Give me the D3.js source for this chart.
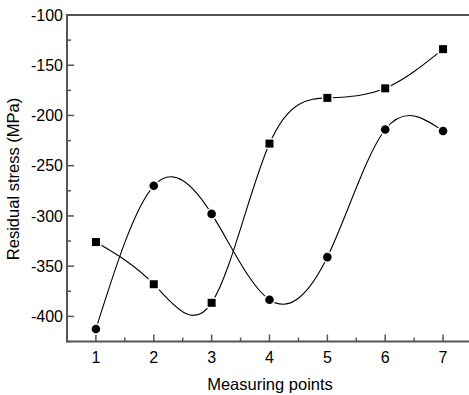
<!DOCTYPE html>
<html><head><meta charset="utf-8">
<script src="https://cdn.jsdelivr.net/npm/d3@7"></script>
<style>html,body{margin:0;padding:0;background:#fff;}svg{display:block;}</style>
</head><body>
<script>
const points = [1,2,3,4,5,6,7];
const squareSeries = [-326,-368,-386.5,-228,-182.5,-173,-134];
const circleSeries = [-412.5,-270,-298,-383.5,-341,-214,-215.5];
const xTicks = [1,2,3,4,5,6,7];
const yTicks = [-100,-150,-200,-250,-300,-350,-400];
const xTitle = "Measuring points";
const yTitle = "Residual stress (MPa)";

const W = 469, H = 395;
const svg = d3.select("body").append("svg").attr("width", W).attr("height", H);
const x = d3.scaleLinear().domain([0.5, 7.5]).range([67, 472]);
const y = d3.scaleLinear().domain([-425, -100]).range([341.5, 15]);
const font = "'Liberation Sans', Arial, sans-serif";
const axisColor = "#555";
const fs = 16;

// curves
const line = d3.line().x((d,i)=>x(points[i])).y(d=>y(d)).curve(d3.curveNatural);
[squareSeries, circleSeries].forEach(s=>{
  svg.append("path").attr("d", line(s)).attr("fill","none").attr("stroke","#000").attr("stroke-width",1.1);
});

// axes frame
const g = svg.append("g");
g.append("line").attr("x1", x(0.5)).attr("x2", x(0.5)).attr("y1", y(-100)).attr("y2", y(-425)).attr("stroke", axisColor).attr("stroke-width", 2);
g.append("line").attr("x1", x(0.5)-1).attr("x2", x(7.5)).attr("y1", y(-425)).attr("y2", y(-425)).attr("stroke", axisColor).attr("stroke-width", 2);
g.append("line").attr("x1", x(0.5)-1).attr("x2", x(7.5)).attr("y1", y(-100)).attr("y2", y(-100)).attr("stroke", axisColor).attr("stroke-width", 2);

// y ticks
const yMinor = d3.range(-425, -99, 25).filter(v=>!yTicks.includes(v));
yTicks.forEach(v=>{
  g.append("line").attr("x1", x(0.5)).attr("x2", x(0.5)+7).attr("y1", y(v)).attr("y2", y(v)).attr("stroke", axisColor).attr("stroke-width", 1.5);
  g.append("text").attr("x", x(0.5)-4).attr("y", y(v)).attr("dy","0.35em").attr("text-anchor","end")
   .attr("font-family", font).attr("font-size", fs).attr("fill","#000").text(v);
});
yMinor.forEach(v=>{
  g.append("line").attr("x1", x(0.5)).attr("x2", x(0.5)+4).attr("y1", y(v)).attr("y2", y(v)).attr("stroke", axisColor).attr("stroke-width", 1.5);
});
// x ticks
xTicks.forEach(v=>{
  g.append("line").attr("x1", x(v)).attr("x2", x(v)).attr("y1", y(-425)).attr("y2", y(-425)-7).attr("stroke", axisColor).attr("stroke-width", 1.5);
  g.append("text").attr("x", x(v)).attr("y", y(-425)+21.5).attr("text-anchor","middle")
   .attr("font-family", font).attr("font-size", fs).attr("fill","#000").text(v);
});
d3.range(1.5, 7.5, 1).forEach(v=>{
  g.append("line").attr("x1", x(v)).attr("x2", x(v)).attr("y1", y(-425)).attr("y2", y(-425)-4).attr("stroke", axisColor).attr("stroke-width", 1.5);
});

// markers
svg.append("g").selectAll("rect").data(squareSeries).join("rect")
  .attr("x",(d,i)=>x(points[i])-4).attr("y",d=>y(d)-4).attr("width",8).attr("height",8)
  .attr("fill","#000").attr("stroke","#fff").attr("stroke-width",3).attr("paint-order","stroke");
svg.append("g").selectAll("circle").data(circleSeries).join("circle")
  .attr("cx",(d,i)=>x(points[i])).attr("cy",d=>y(d)).attr("r",4.3)
  .attr("fill","#000").attr("stroke","#fff").attr("stroke-width",3).attr("paint-order","stroke");

// titles
svg.append("text").attr("x", 270).attr("y", 390).attr("text-anchor","middle")
  .attr("font-family", font).attr("font-size", 16.5).attr("fill","#000").text(xTitle);
svg.append("text").attr("transform","translate(19,179) rotate(-90)").attr("text-anchor","middle")
  .attr("font-family", font).attr("font-size", 16.5).attr("fill","#000").text(yTitle);
</script>
</body></html>
